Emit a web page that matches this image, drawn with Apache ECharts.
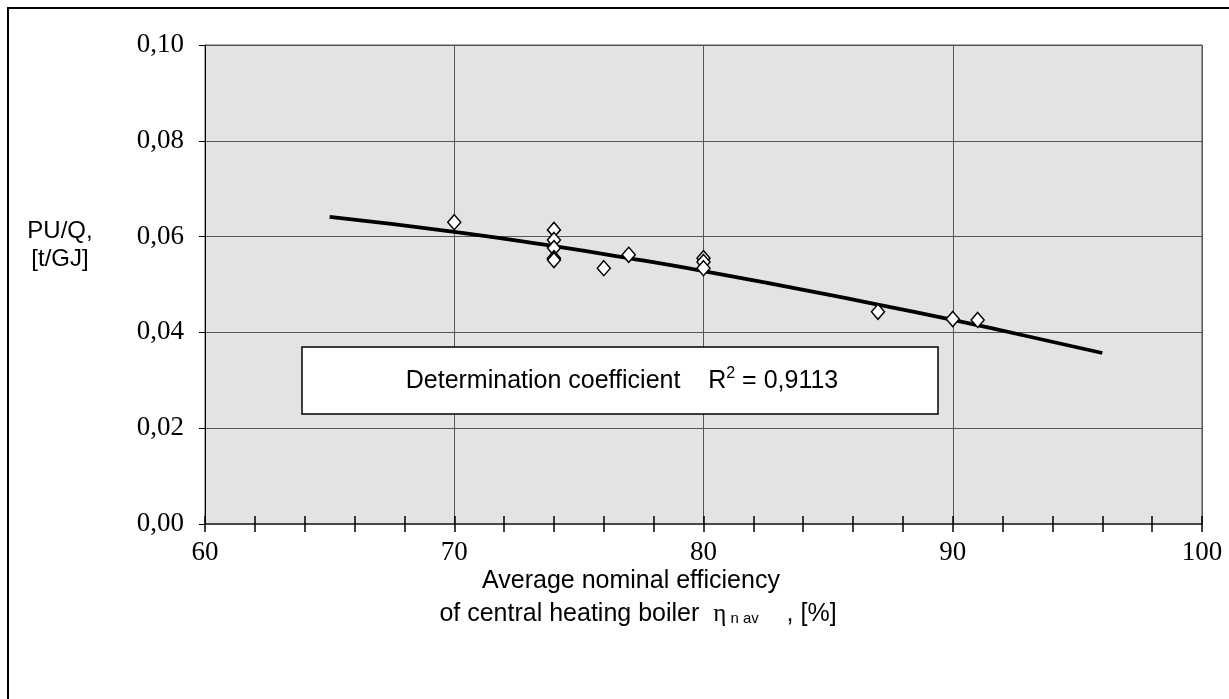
<!DOCTYPE html>
<html>
<head>
<meta charset="utf-8">
<script src="https://cdn.jsdelivr.net/npm/echarts@6/dist/echarts.min.js"></script>
<style>html,body{margin:0;padding:0;background:#fff}#c{width:1229px;height:699px}</style>
</head>
<body>
<div id="c"></div>
<script>
// Measured points: efficiency [%] and PU/Q [t/GJ]
const pointX = [70, 74, 74, 74, 74, 74, 76, 77, 80, 80, 80, 87, 90, 91];
const pointY = [0.0630, 0.0614, 0.0593, 0.0576, 0.0555, 0.0551, 0.0534, 0.0562, 0.0555, 0.0547, 0.0534, 0.0443, 0.0428, 0.0426];
// Trend line
const trendX = [65, 70, 74, 77, 80, 85, 87, 90, 93, 96];
const trendY = [0.0641, 0.0610, 0.0580, 0.0555, 0.0528, 0.0479, 0.0458, 0.0426, 0.0392, 0.0357];
const yTicks = [0, 0.02, 0.04, 0.06, 0.08, 0.10];
const xTicks = [60, 70, 80, 90, 100];
const r2Text = '0,9113';

const SANS = "'Liberation Sans Narrow', 'Liberation Sans', Arial, sans-serif";
const SERIF = "'Liberation Serif', 'Times New Roman', serif";

const chart = echarts.init(document.getElementById('c'));
const gridCfg = {left: 205, top: 45, right: 27, bottom: 175};

const xBase = {
  type: 'value', min: xTicks[0], max: xTicks[xTicks.length - 1], interval: 10,
  position: 'bottom',
  axisLine: {show: true, onZero: false, lineStyle: {color: '#444', width: 1.5}},
  splitLine: {show: false}
};

chart.setOption({
  animation: false,
  backgroundColor: '#fff',
  grid: Object.assign({show: true, backgroundColor: '#e3e3e3', borderColor: '#555', borderWidth: 1}, gridCfg),
  xAxis: [
    Object.assign({}, xBase, {
      axisTick: {show: true, inside: false, length: 8, lineStyle: {color: '#000', width: 1.5}},
      minorTick: {show: true, splitNumber: 5, length: 8, lineStyle: {color: '#000', width: 1.5}},
      splitLine: {show: true, lineStyle: {color: '#555', width: 1}},
      axisLabel: {color: '#000', fontFamily: SERIF, fontSize: 27, margin: 15,
        formatter: v => xTicks.indexOf(v) >= 0 ? String(v) : ''}
    }),
    Object.assign({}, xBase, {
      axisTick: {show: true, inside: true, length: 8, lineStyle: {color: '#000', width: 1.5}},
      minorTick: {show: true, splitNumber: 5, length: 8, lineStyle: {color: '#000', width: 1.5}},
      axisLabel: {show: false}
    })
  ],
  yAxis: {
    type: 'value', min: 0, max: 0.1, interval: 0.02,
    axisLine: {show: true, lineStyle: {color: '#000', width: 1}},
    axisTick: {show: true, inside: false, length: 6, lineStyle: {color: '#000'}},
    splitLine: {show: true, lineStyle: {color: '#555', width: 1}},
    axisLabel: {color: '#000', fontFamily: SERIF, fontSize: 27, margin: 21,
      formatter: v => v.toFixed(2).replace('.', ',')}
  },
  series: [
    {
      type: 'line', smooth: true, showSymbol: false, z: 2,
      data: trendX.map((x, i) => [x, trendY[i]]),
      lineStyle: {color: '#000', width: 3.8}
    },
    {
      type: 'scatter', symbol: 'diamond', symbolSize: [13, 15], z: 3,
      data: pointX.map((x, i) => [x, pointY[i]]),
      itemStyle: {color: '#fff', borderColor: '#000', borderWidth: 1.5, opacity: 1}
    }
  ],
  graphic: [
    {type: 'rect', shape: {x: 8, y: 8, width: 1240, height: 720},
     style: {fill: 'none', stroke: '#000', lineWidth: 2}, z: 100, silent: true},
    {type: 'rect', shape: {x: 302, y: 347, width: 636, height: 67},
     style: {fill: '#fff', stroke: '#000', lineWidth: 1.5}, z: 50},
    {type: 'text', x: 622, y: 381, z: 51,
     style: {
       text: '{a|Determination coefficient}{s|    }{a|R}{sup|2}{a| = ' + r2Text + '}',
       align: 'center', verticalAlign: 'middle',
       rich: {
         a: {fontFamily: SANS, fontSize: 25, fill: '#000'},
         s: {fontFamily: SANS, fontSize: 25},
         sup: {fontFamily: SANS, fontSize: 16, fill: '#000', verticalAlign: 'top', padding: [0, 0, 14, 0]}
       }
     }},
    {type: 'text', x: 60, y: 231, z: 51,
     style: {text: 'PU/Q,', fontFamily: SANS, fontSize: 24, fill: '#000', align: 'center', verticalAlign: 'middle'}},
    {type: 'text', x: 60, y: 259, z: 51,
     style: {text: '[t/GJ]', fontFamily: SANS, fontSize: 24, fill: '#000', align: 'center', verticalAlign: 'middle'}},
    {type: 'text', x: 631, y: 581, z: 51,
     style: {text: 'Average nominal efficiency', fontFamily: SANS, fontSize: 25, fill: '#000', align: 'center', verticalAlign: 'middle'}},
    {type: 'text', x: 638, y: 614, z: 51,
     style: {
       text: '{a|of central heating boiler  }{g|η}{sub| n av}{a|    , [%]}',
       align: 'center', verticalAlign: 'middle',
       rich: {
         a: {fontFamily: SANS, fontSize: 25, fill: '#000'},
         g: {fontFamily: SERIF, fontSize: 25, fill: '#000'},
         sub: {fontFamily: SANS, fontSize: 15, fill: '#000', padding: [10, 0, 0, 0]}
       }
     }}
  ]
});
</script>
</body>
</html>
